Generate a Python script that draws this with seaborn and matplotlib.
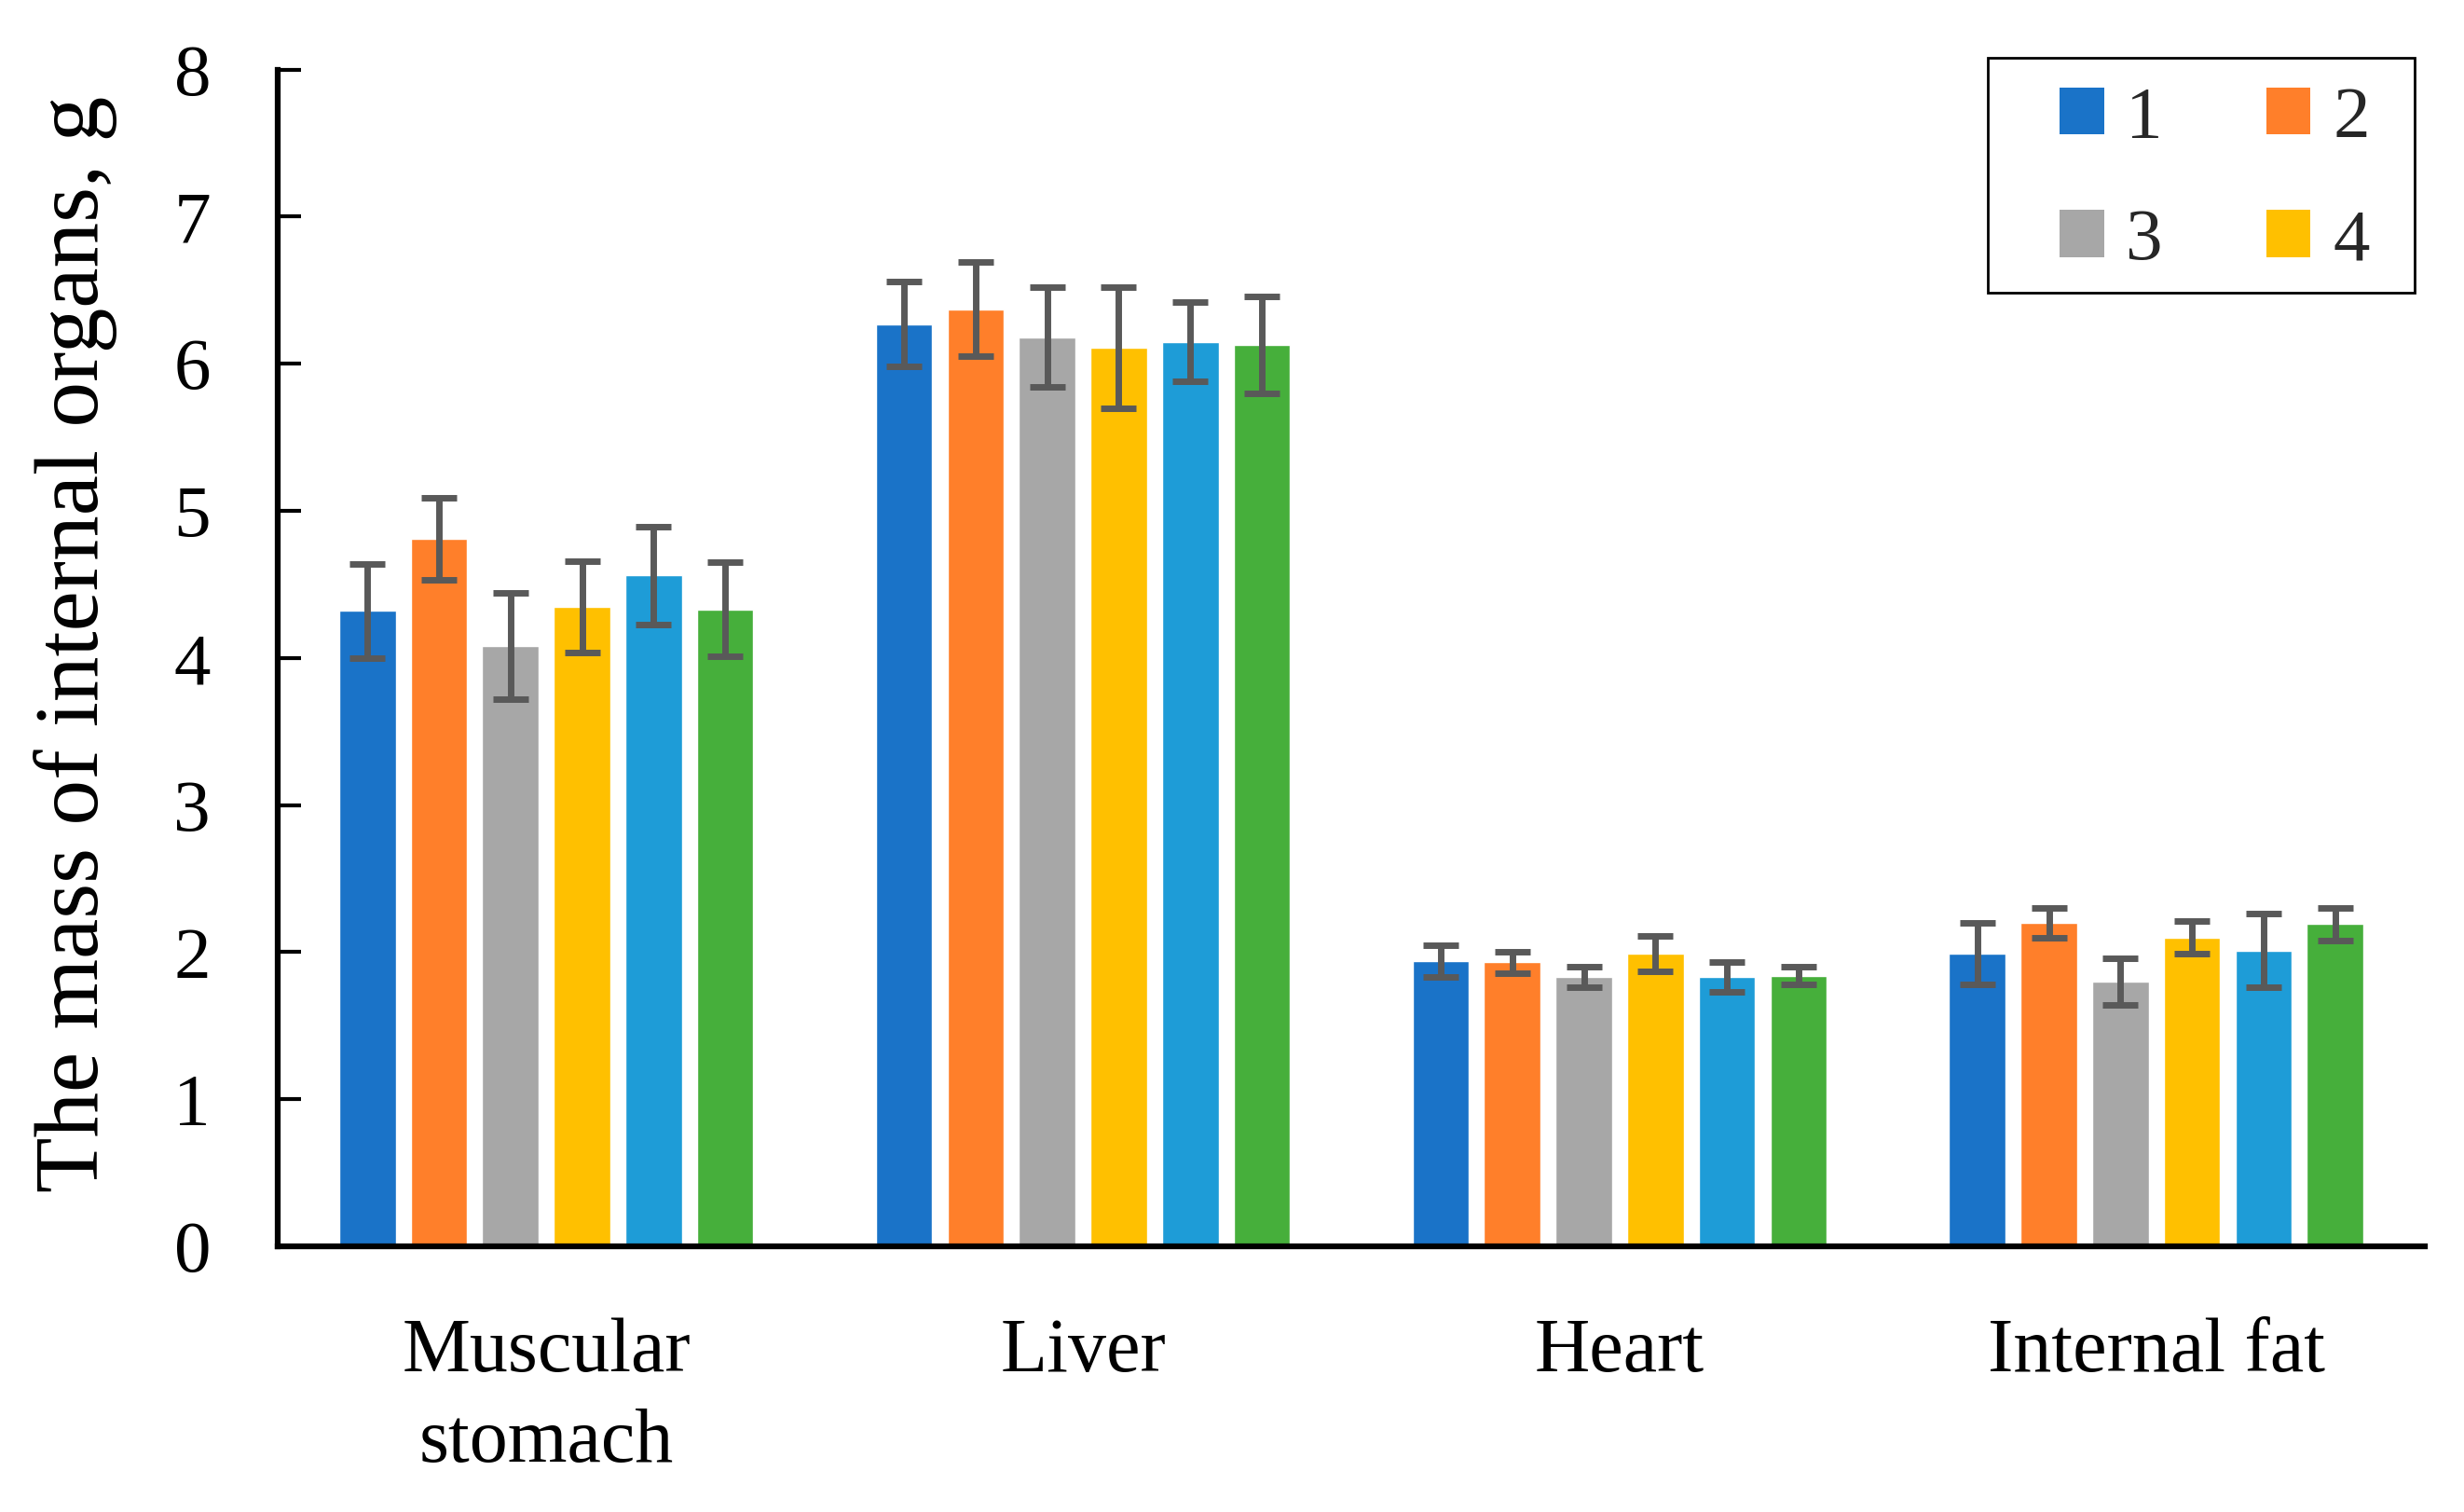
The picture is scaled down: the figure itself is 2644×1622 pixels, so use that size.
import pandas as pd
import matplotlib.pyplot as plt
import seaborn as sns
from matplotlib.patches import Patch, Rectangle

# -----------------------------
# Data
# -----------------------------
organs = ["Muscular\nstomach", "Liver", "Heart", "Internal fat"]
groups = ["1", "2", "3", "4", "5", "6"]

g1_mass = [4.32, 6.27, 1.94, 1.99]
g2_mass = [4.81, 6.37, 1.93, 2.20]
g3_mass = [4.08, 6.18, 1.83, 1.80]
g4_mass = [4.35, 6.11, 1.99, 2.10]
g5_mass = [4.56, 6.15, 1.83, 2.01]
g6_mass = [4.33, 6.13, 1.84, 2.19]

g1_err = [0.32, 0.29, 0.11, 0.21]
g2_err = [0.28, 0.32, 0.07, 0.10]
g3_err = [0.36, 0.34, 0.07, 0.16]
g4_err = [0.31, 0.41, 0.12, 0.11]
g5_err = [0.33, 0.27, 0.10, 0.25]
g6_err = [0.32, 0.33, 0.06, 0.11]

legend_labels = ["1", "2", "3", "4"]

colors = ["#1a73c8", "#ff7f2a", "#a7a7a7", "#ffc000", "#1e9cd7", "#46af3b"]

masses = [g1_mass, g2_mass, g3_mass, g4_mass, g5_mass, g6_mass]
errors = [g1_err, g2_err, g3_err, g4_err, g5_err, g6_err]

rows = []
for g, vals in zip(groups, masses):
    for organ, v in zip(organs, vals):
        rows.append({"organ": organ, "group": g, "mass": v})
df = pd.DataFrame(rows)

# -----------------------------
# Plot
# -----------------------------
sns.set_theme(style="white")
plt.rcParams["font.family"] = ["Liberation Serif", "DejaVu Serif"]

fig = plt.figure(figsize=(26.44, 16.22), dpi=100)
ax = fig.add_axes([0.1128, 0.1757, 0.8712, 0.7783])

sns.barplot(
    data=df,
    x="organ",
    y="mass",
    hue="group",
    order=organs,
    hue_order=groups,
    palette=colors,
    width=0.8,
    gap=0.21,
    errorbar=None,
    saturation=1,
    legend=False,
    ax=ax
)

# error bars on top of each bar
bar_containers = list(ax.containers)
for i, container in enumerate(bar_containers):
    for j, bar in enumerate(container):
        xc = bar.get_x() + bar.get_width() / 2
        ax.errorbar(
            xc, bar.get_height(), yerr=errors[i][j],
            fmt="none", ecolor="#595959",
            elinewidth=5, capsize=13.5, capthick=5, zorder=5
        )

ax.set_xlim(-0.5, 3.5)
ax.set_ylim(0, 8)
ax.set_yticks(range(0, 9))
ax.set_xlabel("")
ax.set_ylabel("")

for side in ["top", "right"]:
    ax.spines[side].set_visible(False)
for side in ["left", "bottom"]:
    ax.spines[side].set_color("black")
    ax.spines[side].set_linewidth(4.5)

ax.tick_params(axis="y", direction="in", length=18, width=3,
               labelsize=57, pad=52, colors="black", left=True)
ax.tick_params(axis="x", length=0, labelsize=59, pad=55, colors="black")
for lab in ax.get_xticklabels():
    lab.set_linespacing(1.38)

fig.text(0.0306, 0.574, "The mass of internal organs, g", rotation=90,
         ha="center", va="center", fontsize=70, color="black")

# legend: only four entries, filled row by row (1 2 / 3 4)
handles = [Patch(facecolor=c, edgecolor="none") for c in colors[:4]]
order = [0, 2, 1, 3]
leg = ax.legend(
    [handles[k] for k in order], [legend_labels[k] for k in order],
    ncol=2, loc="upper right",
    bbox_to_anchor=(0.9797, 0.9725), bbox_transform=fig.transFigure,
    fontsize=57, frameon=False,
    handlelength=0.6, handleheight=0.6, handletextpad=0.3,
    columnspacing=1.4, labelspacing=0.76, borderpad=0.6,
    borderaxespad=0
)

# legend box
fig.patches.append(Rectangle(
    (2133 / 2644, 1 - 314 / 1622), (2591 - 2133) / 2644, (314 - 62) / 1622,
    transform=fig.transFigure, fill=False, edgecolor="black", linewidth=2,
    zorder=10
))

fig.savefig("out.png", dpi=100)
